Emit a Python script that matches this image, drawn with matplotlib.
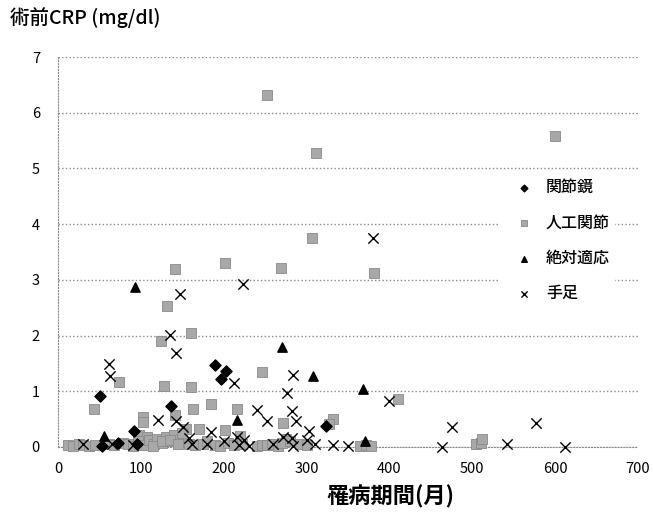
import matplotlib
matplotlib.use("Agg")
import matplotlib.pyplot as plt

plt.rcParams['font.family'] = ['Noto Sans CJK JP', 'DejaVu Sans']

# 関節鏡
kansetsu_x = [51, 53, 72, 92, 95, 136, 189, 197, 203, 324]
kansetsu_y = [0.92, 0.02, 0.07, 0.29, 0.05, 0.74, 1.47, 1.22, 1.37, 0.38]

# 人工関節
jinko_x = [252, 600, 311, 306, 201, 269, 381, 141, 132, 124, 161, 74, 128, 160,
           246, 43, 185, 163, 216, 410, 103, 103, 141, 154, 170, 201, 271, 332,
           327, 98, 108, 275, 220,
           12, 18, 25, 30, 38, 45, 62, 68, 78, 85, 90, 96, 102, 110, 116, 120,
           126, 130, 135, 140, 145, 150, 158, 165, 175, 180, 190, 196, 205, 212,
           222, 240, 246, 252, 258, 266, 270, 280, 292, 300, 365, 372, 378,
           505, 510, 512, 115, 125, 135, 145]
jinko_y = [6.32, 5.58, 5.27, 3.75, 3.31, 3.21, 3.13, 3.19, 2.53, 1.91, 2.04, 1.17,
           1.10, 1.07, 1.35, 0.68, 0.78, 0.69, 0.68, 0.87, 0.53, 0.45, 0.57,
           0.33, 0.32, 0.30, 0.43, 0.50, 0.42, 0.22, 0.18, 0.15, 0.20,
           0.03, 0.02, 0.05, 0.03, 0.02, 0.04, 0.06, 0.03, 0.08, 0.05, 0.02,
           0.10, 0.04, 0.12, 0.06, 0.15, 0.08, 0.18, 0.10, 0.22, 0.12, 0.25,
           0.05, 0.03, 0.06, 0.10, 0.04, 0.02, 0.08, 0.03, 0.05, 0.02, 0.04,
           0.03, 0.06, 0.02, 0.08, 0.10, 0.05, 0.03, 0.02, 0.04, 0.02, 0.05,
           0.08, 0.14, 0.02, 0.10, 0.13, 0.05]

# 絶対適応
zettai_x = [93, 270, 308, 368, 216, 55, 370]
zettai_y = [2.87, 1.80, 1.27, 1.04, 0.48, 0.20, 0.10]

# 手足
teashi_x = [380, 223, 147, 135, 143, 61, 63, 212, 284, 276, 400, 240, 282, 121,
            143, 252, 287, 151, 185, 303, 216, 158, 162, 475, 577, 463, 542,
            612, 332, 350, 260, 272, 282, 284, 300, 310, 225, 218, 30, 65, 90,
            180, 230, 200]
teashi_y = [3.75, 2.92, 2.74, 2.01, 1.68, 1.49, 1.27, 1.14, 1.29, 0.97, 0.83,
            0.66, 0.65, 0.48, 0.46, 0.47, 0.46, 0.36, 0.27, 0.29, 0.18, 0.17,
            0.05, 0.36, 0.43, 0.0, 0.05, 0.0, 0.03, 0.02, 0.05, 0.18, 0.17,
            0.02, 0.12, 0.05, 0.12, 0.03, 0.05, 0.05, 0.03, 0.05, 0.02, 0.10]

fig = plt.figure(figsize=(6.53, 5.13), dpi=100)
ax = fig.add_axes([58 / 653, 1 - 447 / 513, 580 / 653, 390 / 513])

ax.scatter(jinko_x, jinko_y, marker='s', s=45, facecolor='#a8a8a8',
           edgecolor='#8a8a8a', linewidth=0.6, label='人工関節',
           clip_on=False, zorder=3)
ax.scatter(kansetsu_x, kansetsu_y, marker='D', s=32, color='black',
           label='関節鏡', clip_on=False, zorder=4)
ax.scatter(zettai_x, zettai_y, marker='^', s=45, color='black',
           label='絶対適応', clip_on=False, zorder=4)
ax.scatter(teashi_x, teashi_y, marker='x', s=55, color='black',
           linewidth=1.0, label='手足', clip_on=False, zorder=4)

ax.set_xlim(0, 700)
ax.set_ylim(0, 7)
ax.set_xticks(range(0, 701, 100))
ax.set_yticks(range(0, 8))
ax.tick_params(axis='x', length=0, labelsize=10.5, pad=11)
ax.tick_params(axis='y', length=0, labelsize=10.5, pad=13)
ax.yaxis.grid(True, linestyle=':', color='#8a8a8a', linewidth=1.0)
ax.set_axisbelow(True)
for side in ['top', 'right']:
    ax.spines[side].set_visible(False)
ax.spines['left'].set_linestyle(':')
ax.spines['left'].set_color('#8a8a8a')
ax.spines['bottom'].set_linestyle(':')
ax.spines['bottom'].set_color('#8a8a8a')

handles, labels = ax.get_legend_handles_labels()
order = [1, 0, 2, 3]
leg = ax.legend([handles[i] for i in order], [labels[i] for i in order],
                loc='upper left', bbox_to_anchor=(0.745, 0.72),
                labelspacing=1.15, handletextpad=0.1, markerscale=0.6,
                handlelength=2.6, frameon=True, borderpad=0.3,
                prop={'weight': 'medium', 'size': 11.5})
leg.get_frame().set_edgecolor('none')
leg.get_frame().set_facecolor('white')
leg.get_frame().set_alpha(1)

fig.text(10 / 653, 1 - 18 / 513, '術前CRP (mg/dl)', fontsize=14, va='center',
         ha='left', fontweight='medium')
fig.text(390 / 653, 1 - 497 / 513, '罹病期間(月)', fontsize=16,
         fontweight='bold', va='center', ha='center')

plt.savefig("out.png", dpi=100)
